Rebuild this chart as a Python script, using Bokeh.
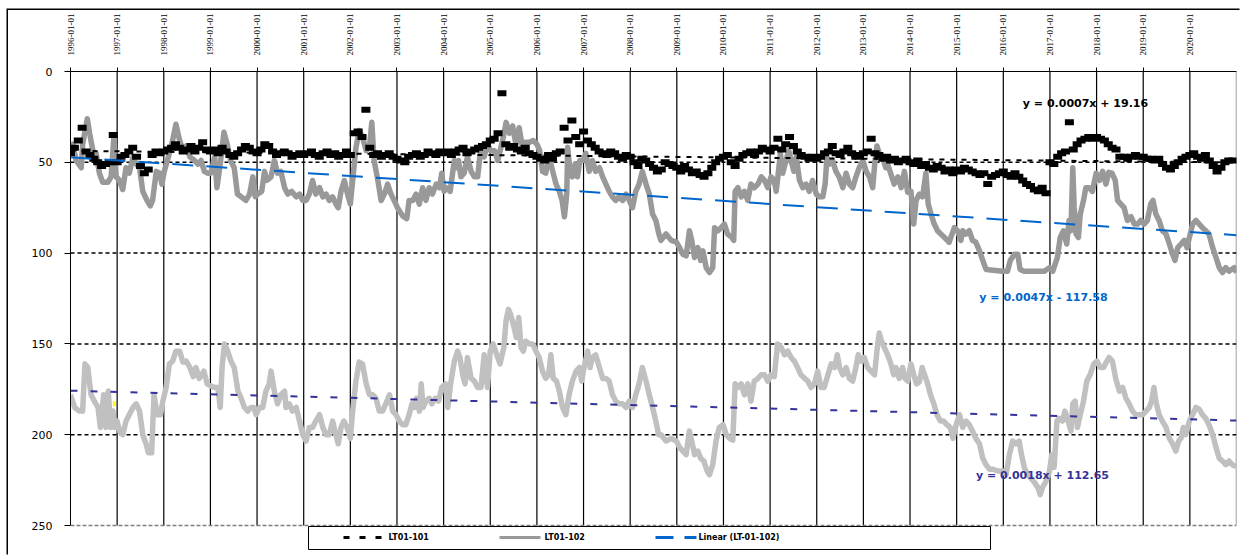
import numpy as np
from bokeh.plotting import figure
from bokeh.models import Range1d, FixedTicker, Label
from bokeh.embed import file_html
from bokeh.resources import INLINE

# ---------------- data ----------------
tick_years = list(range(1996, 2021))
tick_labels = ["%d-01-01" % y for y in tick_years]
y_ticks = [0, 50, 100, 150, 200, 250]

# LT01-101 : monthly values, one row per year 1996..2020
lt101_start_year = 1996
lt101_monthly = [
    [45, 42, 38, 31, 44, 46, 48, 50, 52, 51, 50, 35],   # 1996
    [50, 47, 46, 44, 42, 47, 52, 56, 54, 46, 44, 45],   # 1997
    [44, 43, 42, 40, 42, 44, 43, 41, 44, 42, 39, 43],   # 1998
    [44, 43, 45, 42, 44, 46, 47, 45, 43, 41, 42, 44],   # 1999
    [45, 43, 40, 41, 44, 46, 45, 44, 45, 47, 46, 45],   # 2000
    [46, 45, 44, 46, 47, 45, 44, 46, 45, 47, 46, 44],   # 2001
    [46, 34, 33, 36, 21, 42, 46, 45, 47, 46, 45, 47],   # 2002
    [48, 49, 50, 47, 46, 45, 47, 46, 44, 45, 46, 44],   # 2003
    [45, 44, 46, 44, 43, 42, 45, 44, 43, 42, 41, 40],   # 2004
    [38, 37, 34, 12, 40, 42, 41, 43, 44, 42, 45, 46],   # 2005
    [47, 48, 49, 46, 48, 45, 44, 31, 38, 27, 36, 40],   # 2006
    [33, 38, 40, 42, 44, 45, 46, 44, 45, 47, 48, 46],   # 2007
    [47, 50, 52, 48, 49, 51, 53, 55, 54, 50, 51, 52],   # 2008
    [53, 55, 52, 54, 56, 55, 57, 58, 56, 53, 50, 48],   # 2009
    [47, 46, 50, 52, 48, 46, 45, 44, 46, 44, 42, 43],   # 2010
    [44, 42, 37, 43, 40, 36, 41, 44, 46, 47, 48, 47],   # 2011
    [48, 47, 45, 44, 41, 45, 46, 44, 42, 45, 46, 47],   # 2012
    [45, 44, 37, 45, 46, 48, 47, 49, 48, 50, 49, 48],   # 2013
    [50, 51, 49, 52, 51, 53, 54, 52, 53, 55, 54, 56],   # 2014
    [54, 55, 53, 54, 55, 56, 57, 56, 62, 58, 57, 56],   # 2015
    [55, 57, 58, 56, 58, 60, 62, 63, 65, 66, 64, 67],   # 2016
    [50, 51, 47, 45, 44, 28, 43, 40, 38, 37, 36, 37],   # 2017
    [36, 37, 38, 40, 42, 43, 47, 47, 48, 47, 46, 47],   # 2018
    [47, 48, 48, 49, 48, 51, 53, 54, 52, 50, 48, 47],   # 2019
    [46, 45, 47, 48, 46, 49, 52, 55, 53, 50, 49, 49],   # 2020
]

# LT01-102 (dark grey line)
lt102_x = [
    1996.0, 1996.05, 1996.12, 1996.23, 1996.26, 1996.36, 1996.41, 1996.48, 1996.55, 1996.62, 1996.69, 1996.8,
    1996.87, 1996.93, 1996.98, 1997.05, 1997.12, 1997.19, 1997.26, 1997.34, 1997.41, 1997.48, 1997.55, 1997.64,
    1997.71, 1997.76, 1997.84, 1997.91, 1997.96, 1998.01, 1998.1, 1998.19, 1998.26, 1998.34, 1998.41, 1998.48,
    1998.56, 1998.66, 1998.73, 1998.8, 1998.87, 1998.94, 1999.01, 1999.09, 1999.14, 1999.21, 1999.29, 1999.36,
    1999.43, 1999.51, 1999.58, 1999.66, 1999.76, 1999.84, 1999.91, 1999.96, 2000.01, 2000.1, 2000.16, 2000.21,
    2000.3, 2000.37, 2000.44, 2000.51, 2000.59, 2000.66, 2000.74, 2000.84, 2000.91, 2000.98, 2001.05, 2001.12,
    2001.19, 2001.26, 2001.34, 2001.41, 2001.48, 2001.55, 2001.62, 2001.69, 2001.74, 2001.8, 2001.87, 2001.94,
    2002.0, 2002.05, 2002.12, 2002.19, 2002.26, 2002.34, 2002.41, 2002.46, 2002.51, 2002.59, 2002.66, 2002.73,
    2002.8, 2002.87, 2002.94, 2003.01, 2003.12, 2003.21, 2003.26, 2003.34, 2003.41, 2003.48, 2003.55, 2003.62,
    2003.69, 2003.76, 2003.84, 2003.91, 2003.96, 2004.01, 2004.06, 2004.14, 2004.23, 2004.29, 2004.32, 2004.37,
    2004.44, 2004.51, 2004.59, 2004.66, 2004.73, 2004.8, 2004.87, 2004.94, 2005.01, 2005.09, 2005.16, 2005.23,
    2005.28, 2005.34, 2005.41, 2005.48, 2005.55, 2005.62, 2005.69, 2005.76, 2005.84, 2005.92, 2006.0, 2006.06,
    2006.12, 2006.19, 2006.26, 2006.34, 2006.41, 2006.48, 2006.54, 2006.59, 2006.64, 2006.66, 2006.71, 2006.76,
    2006.82, 2006.87, 2006.92, 2006.99, 2007.05, 2007.12, 2007.19, 2007.26, 2007.34, 2007.41, 2007.48, 2007.55,
    2007.62, 2007.69, 2007.76, 2007.84, 2007.91, 2007.98, 2008.05, 2008.12, 2008.19, 2008.26, 2008.34, 2008.41,
    2008.48, 2008.55, 2008.62, 2008.66, 2008.77, 2008.88, 2008.99, 2009.06, 2009.13, 2009.2, 2009.27, 2009.32,
    2009.38, 2009.45, 2009.51, 2009.56, 2009.63, 2009.7, 2009.77, 2009.81, 2009.88, 2009.95, 2010.02, 2010.09,
    2010.18, 2010.22, 2010.25, 2010.31, 2010.38, 2010.45, 2010.52, 2010.59, 2010.66, 2010.74, 2010.81, 2010.88,
    2010.95, 2011.02, 2011.09, 2011.13, 2011.18, 2011.22, 2011.27, 2011.34, 2011.4, 2011.45, 2011.51, 2011.56,
    2011.63, 2011.7, 2011.77, 2011.84, 2011.91, 2011.99, 2012.06, 2012.13, 2012.18, 2012.22, 2012.27, 2012.34,
    2012.41, 2012.48, 2012.56, 2012.63, 2012.7, 2012.77, 2012.84, 2012.91, 2012.99, 2013.06, 2013.13, 2013.2,
    2013.25, 2013.29, 2013.34, 2013.41, 2013.48, 2013.52, 2013.61, 2013.66, 2013.74, 2013.81, 2013.88, 2013.95,
    2014.02, 2014.08, 2014.13, 2014.2, 2014.27, 2014.34, 2014.39, 2014.45, 2014.52, 2014.59, 2014.66, 2014.74,
    2014.84, 2014.95, 2015.02, 2015.09, 2015.13, 2015.2, 2015.27, 2015.34, 2015.41, 2015.49, 2015.56, 2015.63,
    2015.99, 2016.09, 2016.15, 2016.24, 2016.31, 2016.36, 2016.45, 2016.88, 2016.99, 2017.06, 2017.16, 2017.22,
    2017.29, 2017.36, 2017.41, 2017.45, 2017.49, 2017.52, 2017.56, 2017.61, 2017.65, 2017.72, 2017.77, 2017.84,
    2017.91, 2017.99, 2018.06, 2018.13, 2018.2, 2018.26, 2018.33, 2018.4, 2018.45, 2018.52, 2018.59, 2018.66,
    2018.74, 2018.81, 2018.88, 2018.95, 2019.02, 2019.09, 2019.16, 2019.21, 2019.27, 2019.34, 2019.41, 2019.49,
    2019.56, 2019.63, 2019.68, 2019.74, 2019.81, 2019.88, 2019.94, 2019.99, 2020.06, 2020.13, 2020.2, 2020.27,
    2020.34, 2020.41, 2020.49, 2020.56, 2020.63, 2020.7, 2020.77, 2020.84, 2020.95, 2021.0,
]
lt102_y = [
    41.7, 40, 49, 53, 40, 26, 34, 43.6, 45, 56, 61, 61,
    58, 36, 58, 60, 65, 53, 56, 47, 51, 53, 66, 71,
    74, 71, 55, 56, 62, 55, 47, 38, 29, 38, 43, 41,
    47, 49, 51, 49, 55, 56, 56, 47, 64, 51, 33.5, 40,
    49, 53, 67.5, 69, 71, 67.5, 58, 69, 67.5, 66, 55, 60,
    58, 49, 56, 55, 64, 67.5, 66, 69, 67.5, 71, 71, 67.5,
    60, 67.5, 64, 69, 67.5, 71, 69, 73, 75, 66, 60, 67.5,
    73, 60, 42, 32.5, 36, 43.6, 41.7, 28, 49, 60, 71, 67.5,
    62, 67.5, 71, 75, 79.5, 81, 71, 71, 67.5, 73, 64, 71,
    64, 67.5, 62, 64, 56, 66, 64, 66, 49, 53, 49, 58,
    56, 47, 55, 58, 58, 41.7, 47, 40, 43.6, 43.6, 49, 41.7,
    36, 28, 34, 30, 40, 31, 41.7, 39, 39, 38, 40, 43.6,
    55, 56, 47, 55, 62, 66, 71, 80, 67.5, 41.7, 55, 58,
    51, 58, 49, 49, 45, 55, 49, 55, 53, 58, 62, 66,
    69, 71, 69, 71, 67.5, 71, 75, 66, 62, 55, 62, 67.5,
    78.5, 82, 90, 93, 89.5, 93, 94, 97, 100.6, 101.5, 87.7, 93,
    102.4, 97, 104, 98.8, 108, 110.7, 108, 86, 87.7, 86, 84, 89.5,
    91.4, 93, 66, 64, 69, 66, 71, 62, 64, 62, 58, 60,
    64, 58, 60, 66, 55, 45, 56, 49, 43.6, 49, 55, 47,
    60, 64, 62, 66, 60, 67.5, 69, 69, 62, 47, 51, 49,
    55, 58, 64, 56, 62, 64, 58, 53, 49, 55, 58, 64,
    49, 41, 45, 47, 53, 51, 58, 62, 58, 64, 55, 66.5,
    66, 84, 71, 67.5, 69, 56, 73, 78.5, 84, 87.7, 89.5, 91.4,
    94, 86, 87.7, 93, 87.7, 89.5, 87.7, 93, 94, 98.8, 104, 109,
    110, 110, 104, 100.6, 100.6, 109, 110, 110, 108, 110, 102.4, 91.4,
    87.7, 95, 82, 87.7, 53, 75, 89.5, 91.4, 78.5, 71, 64, 64,
    66, 56, 60, 55, 62, 55.5, 56, 60, 71, 73, 75, 82,
    80, 84, 84, 82, 84, 82, 73, 71, 78.5, 82, 87.7, 89.5,
    95, 100.6, 104, 97, 95, 93, 97, 91.4, 84, 82, 84, 86,
    87.7, 89.5, 97, 102.4, 108, 110.7, 108, 110, 108, 110.7,
]

# third well (light grey line, no legend entry)
low_x = [
    1996.0, 1996.09, 1996.19, 1996.26, 1996.31, 1996.37, 1996.44, 1996.51, 1996.59, 1996.64, 1996.71, 1996.76,
    1996.81, 1996.86, 1996.91, 1996.94, 1997.0, 1997.05, 1997.12, 1997.19, 1997.26, 1997.34, 1997.41, 1997.48,
    1997.55, 1997.62, 1997.67, 1997.74, 1997.79, 1997.86, 1997.93, 1997.98, 1998.05, 1998.12, 1998.19, 1998.26,
    1998.34, 1998.41, 1998.48, 1998.56, 1998.63, 1998.69, 1998.76, 1998.86, 1998.93, 1999.0, 1999.09, 1999.16,
    1999.21, 1999.25, 1999.3, 1999.37, 1999.44, 1999.51, 1999.59, 1999.66, 1999.73, 1999.8, 1999.87, 1999.93,
    1999.98, 2000.05, 2000.12, 2000.19, 2000.26, 2000.3, 2000.37, 2000.44, 2000.51, 2000.59, 2000.62, 2000.69,
    2000.76, 2000.84, 2000.91, 2000.98, 2001.05, 2001.12, 2001.19, 2001.26, 2001.34, 2001.41, 2001.48, 2001.55,
    2001.62, 2001.69, 2001.74, 2001.8, 2001.86, 2001.93, 2002.0, 2002.05, 2002.12, 2002.19, 2002.26, 2002.34,
    2002.41, 2002.48, 2002.55, 2002.62, 2002.69, 2002.76, 2002.84, 2002.91, 2002.98, 2003.05, 2003.12, 2003.19,
    2003.26, 2003.32, 2003.37, 2003.42, 2003.48, 2003.52, 2003.56, 2003.62, 2003.69, 2003.75, 2003.82, 2003.89,
    2003.96, 2004.04, 2004.09, 2004.15, 2004.23, 2004.3, 2004.35, 2004.41, 2004.46, 2004.51, 2004.59, 2004.66,
    2004.73, 2004.8, 2004.87, 2004.94, 2005.0, 2005.06, 2005.14, 2005.21, 2005.29, 2005.34, 2005.39, 2005.44,
    2005.51, 2005.56, 2005.61, 2005.66, 2005.71, 2005.76, 2005.84, 2005.91, 2005.98, 2006.05, 2006.12, 2006.19,
    2006.25, 2006.3, 2006.35, 2006.42, 2006.48, 2006.55, 2006.62, 2006.69, 2006.76, 2006.84, 2006.91, 2006.96,
    2007.01, 2007.09, 2007.14, 2007.19, 2007.26, 2007.34, 2007.41, 2007.48, 2007.55, 2007.62, 2007.69, 2007.76,
    2007.84, 2007.91, 2007.98, 2008.05, 2008.12, 2008.19, 2008.26, 2008.34, 2008.41, 2008.48, 2008.55, 2008.61,
    2008.66, 2008.77, 2008.88, 2008.99, 2009.06, 2009.13, 2009.2, 2009.27, 2009.32, 2009.38, 2009.45, 2009.51,
    2009.58, 2009.65, 2009.7, 2009.77, 2009.84, 2009.91, 2009.99, 2010.06, 2010.13, 2010.2, 2010.25, 2010.31,
    2010.38, 2010.45, 2010.52, 2010.59, 2010.66, 2010.74, 2010.81, 2010.88, 2010.95, 2011.02, 2011.09, 2011.16,
    2011.24, 2011.31, 2011.38, 2011.45, 2011.52, 2011.59, 2011.66, 2011.74, 2011.81, 2011.88, 2011.95, 2012.02,
    2012.09, 2012.16, 2012.24, 2012.31, 2012.38, 2012.44, 2012.49, 2012.56, 2012.63, 2012.7, 2012.77, 2012.84,
    2012.89, 2012.95, 2013.02, 2013.09, 2013.16, 2013.24, 2013.29, 2013.34, 2013.39, 2013.45, 2013.52, 2013.59,
    2013.65, 2013.7, 2013.77, 2013.84, 2013.89, 2013.95, 2014.02, 2014.08, 2014.14, 2014.2, 2014.26, 2014.31,
    2014.36, 2014.44, 2014.51, 2014.58, 2014.65, 2014.72, 2014.79, 2014.86, 2014.92, 2014.99, 2015.06, 2015.13,
    2015.2, 2015.27, 2015.34, 2015.41, 2015.49, 2015.56, 2015.63, 2015.7, 2015.77, 2015.88, 2015.99, 2016.06,
    2016.13, 2016.2, 2016.27, 2016.34, 2016.39, 2016.45, 2016.52, 2016.59, 2016.66, 2016.74, 2016.79, 2016.84,
    2016.91, 2016.99, 2017.04, 2017.09, 2017.15, 2017.2, 2017.27, 2017.32, 2017.39, 2017.45, 2017.49, 2017.54,
    2017.59, 2017.65, 2017.72, 2017.79, 2017.86, 2017.94, 2018.01, 2018.08, 2018.15, 2018.22, 2018.27, 2018.34,
    2018.41, 2018.49, 2018.56, 2018.63, 2018.7, 2018.77, 2018.84, 2018.91, 2018.99, 2019.06, 2019.13, 2019.18,
    2019.23, 2019.27, 2019.34, 2019.41, 2019.49, 2019.56, 2019.63, 2019.7, 2019.76, 2019.81, 2019.86, 2019.91,
    2019.99, 2020.06, 2020.13, 2020.2, 2020.27, 2020.34, 2020.41, 2020.49, 2020.56, 2020.63, 2020.7, 2020.77,
    2020.84, 2020.91, 2020.99,
]
low_y = [
    178, 185, 187, 187, 161, 163, 178, 181.5, 185, 196, 178, 196,
    176, 196, 187, 196, 192.5, 198, 200, 192.5, 189, 185, 183, 187,
    200, 205, 210, 210, 178, 189, 189, 181.5, 174, 161, 159.5, 154,
    154, 160, 159.5, 163, 168, 163, 169, 165, 172, 173, 174, 174,
    185, 163, 150, 154, 159.5, 163, 176, 180, 185, 187, 185, 185,
    189, 185, 185, 176, 172, 165, 176, 183, 178, 176, 185, 183,
    187, 185, 192.5, 200, 203.5, 196, 196, 192.5, 189, 196, 200, 200,
    192.5, 200, 205, 196, 192.5, 196, 202, 187, 170.5, 160, 161, 172,
    178, 178, 180, 187, 187, 183, 178, 187, 189, 192.5, 194.5, 194.5,
    189, 183, 185, 180, 187, 172, 185, 181.5, 180, 183, 180, 181.5,
    174, 172, 185, 172, 159.5, 154, 157.5, 167, 172, 157.5, 169, 170.5,
    174, 174, 156, 174, 154, 150, 156, 161, 152, 137, 131, 134,
    141, 146.5, 135.5, 152, 154, 148.5, 150, 150, 154, 157.5, 165, 169,
    167, 156, 169, 170.5, 176, 185, 189, 178, 170.5, 165, 163, 170.5,
    163, 154, 163, 157.5, 156, 163, 169, 169, 170.5, 178, 181.5, 183,
    183, 185, 181.5, 185, 178, 172, 163, 170.5, 178, 185, 192.5, 200,
    200, 203.5, 202, 203.5, 207, 209, 211, 198, 203.5, 211, 209, 213,
    214.5, 220, 222, 216.5, 203.5, 196, 194.5, 200, 202, 203, 172, 174,
    172, 178, 172, 181.5, 170.5, 169, 167, 167, 170.5, 167, 168, 150,
    152, 156, 154, 157.5, 159.5, 163, 167, 169, 170.5, 174, 172, 165,
    174, 174, 167, 161, 163, 156, 163, 167, 163, 169, 170.5, 163,
    156, 159.5, 157.5, 163, 165, 167, 154, 144, 148.5, 152, 156, 161,
    167, 163, 169, 163, 169, 170.5, 161, 167, 172, 171, 163, 167,
    170.5, 178, 183, 189, 192.5, 192.5, 194.5, 196, 202, 194.5, 189, 196,
    192.5, 194.5, 198, 202, 205, 213, 216.5, 219, 219, 220, 220, 222,
    211, 203.5, 205, 203.5, 211, 218, 222, 224, 226, 229, 233, 229,
    226, 220, 211, 218, 192.5, 191, 192.5, 187, 192.5, 198, 183, 181.5,
    196, 189, 181.5, 170.5, 167, 161, 159.5, 163, 163, 159.5, 157.5, 159.5,
    169, 176, 174, 180, 183, 187, 189, 189, 189, 187, 185, 181.5,
    174, 181.5, 189, 192.5, 196, 202, 205, 209, 203.5, 202, 196, 200,
    192.5, 189, 185, 186, 189, 191, 194.5, 200, 207, 213, 214.5, 216.5,
    214.5, 216.5, 217.5,
]

# small yellow series point
yellow_x = [1996.94]
yellow_y = [183]

# trend-line equations printed on the chart (x = Excel date serial)
trend_101 = (0.0007, 19.16)
trend_102 = (0.0047, -117.58)
trend_low = (0.0018, 112.65)
trend_span = [1996.0, 2021.0]

# ---------------- layout helpers ----------------
FRAME_L, FRAME_R, FRAME_T = 70.0, 1236.0, 71.0
PX_PER_YEAR = (FRAME_R - FRAME_L) / 25.0
PX_PER_UNIT = 454.0 / 250.0
OFF_X, OFF_Y = 8, 10              # page offset of the canvas (outer border)
FIG_W, FIG_H = 1241 - OFF_X, 556 - OFF_Y


def X(px):
    return 1996 + (px - FRAME_L) / PX_PER_YEAR


def Y(py):
    return (py - FRAME_T) / PX_PER_UNIT


def serial(yr):
    return 35065 + (np.asarray(yr) - 1996) * 365.25


ymax = Y(OFF_Y + FIG_H)

p = figure(width=FIG_W, height=FIG_H,
           x_range=Range1d(1996, 2021), y_range=Range1d(ymax, 0),
           x_axis_location="above", output_backend="svg", toolbar_location=None,
           min_border_left=int(FRAME_L - OFF_X), min_border_top=int(FRAME_T - OFF_Y),
           min_border_right=int(OFF_X + FIG_W - FRAME_R), min_border_bottom=0,
           margin=(OFF_Y, 0, 0, OFF_X),
           styles={"box-shadow": "-1.5px -1.5px 0px 0px black"})
p.xgrid.visible = False
p.ygrid.visible = False
p.outline_line_color = None
p.background_fill_color = "white"
p.border_fill_color = "white"

xa = p.xaxis[0]
xa.ticker = FixedTicker(ticks=tick_years)
xa.major_label_overrides = {y: l for y, l in zip(tick_years, tick_labels)}
xa.major_label_orientation = "vertical"
xa.major_label_text_font = "Liberation Serif"
xa.major_label_text_font_size = "9px"
xa.major_label_text_color = "black"
xa.major_label_standoff = 12
xa.major_tick_out = 4
xa.major_tick_in = 0
xa.minor_tick_line_color = None
xa.axis_line_color = "black"
xa.major_tick_line_color = "black"

ya = p.yaxis[0]
ya.ticker = FixedTicker(ticks=y_ticks)
ya.bounds = (0, 250)
ya.major_label_text_font = "DejaVu Sans"
ya.major_label_text_font_size = "11px"
ya.major_label_text_color = "black"
ya.major_label_standoff = 12
ya.major_tick_out = 6
ya.major_tick_in = 0
ya.minor_tick_line_color = None
ya.axis_line_color = "black"
ya.major_tick_line_color = "black"

# grid lines drawn from tick lists
p.segment(x0=tick_years[1:], y0=0, x1=tick_years[1:], y1=250, line_color="black", line_width=1.2)
p.segment(x0=2021, y0=0, x1=2021, y1=250, line_color="#808080", line_width=1.5)
inner = y_ticks[1:-1]
p.segment(x0=1996, y0=inner, x1=2021, y1=inner, line_color="black", line_width=1.5, line_dash="4 3")
p.segment(x0=1996, y0=250, x1=2021, y1=250, line_color="#808080", line_width=1.5, line_dash="4 2")

# series
p.line(low_x, low_y, line_color="#C0C0C0", line_width=5.5, line_join="round")
p.line(lt102_x, lt102_y, line_color="#999999", line_width=5.5, line_join="round")

lt101_x, lt101_y = [], []
for i, row in enumerate(lt101_monthly):
    for m, v in enumerate(row):
        lt101_x.append(lt101_start_year + i + m / 12.0)
        lt101_y.append(v)

tx = np.array(trend_span)
p.line(tx, trend_101[0] * serial(tx) + trend_101[1], line_color="black", line_width=2, line_dash="5 6")
p.rect(lt101_x, lt101_y, width=9, height=6, width_units="screen", height_units="screen",
       fill_color="black", line_color=None)
p.rect(yellow_x, yellow_y, width=3, height=5, width_units="screen", height_units="screen",
       fill_color="#FFFF00", line_color=None)

p.line(tx, trend_102[0] * serial(tx) + trend_102[1], line_color="#0066CC", line_width=2, line_dash="21 13")
p.line(tx, trend_low[0] * serial(tx) + trend_low[1], line_color="#333399", line_width=2, line_dash="7 13")

# equation labels
for txt, col, cx, cy in [
    ("y = 0.0007x + 19.16", "black", 1085, 103),
    ("y = 0.0047x - 117.58", "#0066CC", 1043, 297),
    ("y = 0.0018x + 112.65", "#333399", 1042, 475),
]:
    p.add_layout(Label(x=X(cx), y=Y(cy), text=txt, text_color=col, text_font="DejaVu Sans",
                       text_font_style="bold", text_font_size="11px",
                       text_align="center", text_baseline="middle"))

# legend (drawn below the 250 line)
p.quad(left=X(308), right=X(990), top=Y(526), bottom=Y(549), fill_color="white",
       line_color="black", line_width=1)
ly = Y(537)
p.line([X(343), X(382)], [ly, ly], line_color="black", line_width=3, line_dash="6 10")
p.line([X(499), X(540)], [ly, ly], line_color="#999999", line_width=3)
p.line([X(655), X(696)], [ly, ly], line_color="#0066CC", line_width=3, line_dash="18 11")
for txt, px in [("LT01-101", 388), ("LT01-102", 544), ("Linear (LT-01-102)", 698)]:
    p.add_layout(Label(x=X(px), y=ly, text=txt, text_color="black", text_font="DejaVu Sans",
                       text_font_style="bold", text_font_size="8px",
                       text_align="left", text_baseline="middle"))

open("out.html", "w").write(file_html(p, INLINE))
